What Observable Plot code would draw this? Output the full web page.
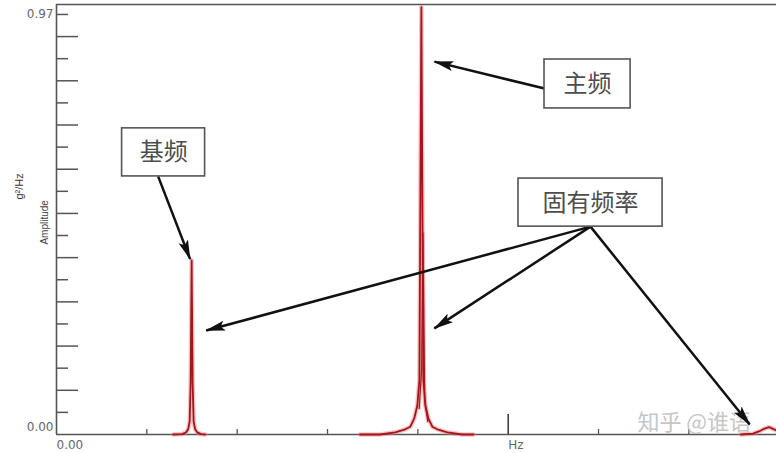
<!DOCTYPE html>
<html>
<head>
<meta charset="utf-8">
<script src="https://cdn.jsdelivr.net/npm/d3@7"></script>
<script src="https://cdn.jsdelivr.net/npm/@observablehq/plot@0.6"></script>
<style>
  html, body { margin: 0; padding: 0; background: #fff; }
</style>
</head>
<body>
<div id="chart"></div>
<script>
// ---- Spectrum traces (Hz, amplitude g²/Hz) ----
const baseHz   = [129.1, 139.1, 143.5, 145.7, 147.4, 148.5, 149.6, 150.7, 151.8, 153.5, 155.7, 160.1, 164.5];
const baseAmp  = [0, 0.001, 0.005, 0.012, 0.03, 0.12, 0.402, 0.12, 0.03, 0.012, 0.005, 0.001, 0];

const mainHz   = [336, 358, 375, 386, 391.7, 396, 399.4, 401.7, 403.9, 406.1, 408.3, 411.6, 416, 421.6, 432.7, 449, 461.5];
const mainAmp  = [0, 0, 0.005, 0.012, 0.018, 0.037, 0.067, 0.125, 0.987, 0.125, 0.067, 0.037, 0.018, 0.012, 0.005, 0, 0];

const echoHz   = [401.5, 404.2, 405.6, 407.6, 411];
const echoAmp  = [0.06, 0.15, 0.465, 0.08, 0.03];

const highHz   = [757.6, 770.9, 777.6, 783.1, 788.6, 793.1, 797.5];
const highAmp  = [0, 0.002, 0.007, 0.013, 0.017, 0.013, 0.009];

// ---- Axes ----
const yTop = 0.993;
const xMax = 797;
const yTicksShort = [0.0511, 0.1532, 0.2553, 0.3574, 0.4595, 0.5616, 0.6637, 0.7658, 0.8679, 0.97];
const yTicksLong  = [0.1021, 0.2042, 0.3063, 0.4084, 0.5105, 0.6126, 0.7147, 0.8168, 0.9189];
const yLabelTop = [0.97];
const yLabelBottom = [0];
const xTicksShort = [100, 200, 300, 400, 600, 700];
const xTicksLong  = [500];
const xLabelZero = [0];
const xLabelUnit = [500];
const yTitleUnit = [{label: "g²/Hz", amp: 0.573}];
const yTitleName = [{label: "Amplitude", amp: 0.49}];

// ---- Annotations ----
const boxLabels = ["基频", "主频", "固有频率"];
const boxX1 = [72.6, 540.2, 511.4];
const boxX2 = [164.5, 635.5, 670.9];
const boxY1 = [0.596, 0.753, 0.480];
const boxY2 = [0.707, 0.866, 0.591];
const boxTextHz  = [118.6, 587.8, 591.1];
const boxTextAmp = [0.651, 0.809, 0.535];

const arrowX1 = [112.5, 540.2, 591.1, 591.1, 591.1];
const arrowY1 = [0.596, 0.799, 0.480, 0.480, 0.480];
const arrowX2 = [147.9, 418.3, 165.7, 418.3, 767.3];
const arrowY2 = [0.405, 0.861, 0.240, 0.245, 0.023];

const watermark = [{text: "知乎 @谁语", hz: 643, amp: 0.027}];

// ---- Build tables ----
const rows = (hz, amp, series) => hz.map((h, i) => ({hz: h, amp: amp[i], series}));
const traces = [
  ...rows(baseHz, baseAmp, "base"),
  ...rows(mainHz, mainAmp, "main"),
  ...rows(highHz, highAmp, "high")
];
const echo = rows(echoHz, echoAmp, "echo");
const boxes = boxLabels.map((t, i) => ({t, x1: boxX1[i], x2: boxX2[i], y1: boxY1[i], y2: boxY2[i], tx: boxTextHz[i], ty: boxTextAmp[i]}));
const arrows = arrowX1.map((x, i) => ({x1: x, y1: arrowY1[i], x2: arrowX2[i], y2: arrowY2[i]}));

// filled arrowhead marker
function filledArrow(color) {
  const m = d3.create("svg:marker")
    .attr("viewBox", "-19 -6 20 12")
    .attr("markerUnits", "userSpaceOnUse")
    .attr("markerWidth", 20)
    .attr("markerHeight", 12)
    .attr("refX", 0)
    .attr("refY", 0)
    .attr("orient", "auto");
  m.append("path").attr("d", "M-19,-5L1,0L-19,5L-15,0Z").attr("fill", color).attr("stroke", "none");
  return m.node();
}

const axisGray = "#555";
const labelGray = "#666";
const tickFont = "'DejaVu Sans', sans-serif";
const cjk = "'Noto Sans CJK SC', 'Noto Sans', sans-serif";

const chart = Plot.plot({
  width: 776,
  height: 453,
  marginLeft: 56,
  marginRight: 0,
  marginTop: 4,
  marginBottom: 19,
  x: {domain: [0, xMax], axis: null},
  y: {domain: [0, yTop], axis: null},
  style: {fontFamily: "'Liberation Sans', Arial, sans-serif", background: "#fff"},
  marks: [
    // frame lines
    Plot.ruleY([yTop], {stroke: axisGray, strokeWidth: 1.6}),
    Plot.ruleX([0], {stroke: axisGray, strokeWidth: 1.6}),
    // inward ticks
    Plot.axisY(yTicksLong, {anchor: "left", tickSize: 22, dx: 22, fill: "none", stroke: axisGray, strokeWidth: 1.5, label: null}),
    Plot.axisY(yTicksShort, {anchor: "left", tickSize: 12, dx: 12, fill: "none", stroke: axisGray, strokeWidth: 1.5, label: null}),
    Plot.axisX(xTicksShort, {anchor: "bottom", tickSize: 5, dy: -5, fill: "none", stroke: axisGray, strokeWidth: 1.3, label: null}),
    Plot.axisX(xTicksLong, {anchor: "bottom", tickSize: 20, dy: -20, fill: "none", stroke: "#333", strokeWidth: 1.5, label: null}),
    // tick labels
    Plot.axisY(yLabelTop, {anchor: "left", tickSize: 0, tickPadding: 3, tickFormat: ".2f", fill: labelGray, fontSize: 12, fontFamily: tickFont, label: null}),
    Plot.axisY(yLabelBottom, {anchor: "left", tickSize: 0, tickPadding: 3, dy: -7, tickFormat: ".2f", fill: labelGray, fontSize: 12, fontFamily: tickFont, label: null}),
    Plot.axisX(xLabelZero, {anchor: "bottom", tickSize: 0, tickPadding: 6, tickFormat: ".2f", textAnchor: "start", fill: labelGray, fontSize: 12, fontFamily: tickFont, label: null}),
    Plot.axisX(xLabelUnit, {anchor: "bottom", tickSize: 0, tickPadding: 6, tickFormat: () => "Hz", textAnchor: "start", fill: labelGray, fontSize: 12, fontFamily: tickFont, label: null}),
    // axis titles
    Plot.text(yTitleUnit, {text: "label", y: "amp", frameAnchor: "left", textAnchor: "middle", dx: -37, rotate: -90, fill: "#333", fontSize: 11}),
    Plot.text(yTitleName, {text: "label", y: "amp", frameAnchor: "left", textAnchor: "middle", dx: -12, rotate: -90, fill: "#444", fontSize: 10}),
    // bottom axis line
    Plot.ruleY([0], {stroke: axisGray, strokeWidth: 1.6}),
    // spectrum traces: soft halo + dark red line
    Plot.line(traces, {x: "hz", y: "amp", z: "series", stroke: "#f07a7a", strokeWidth: 4.5, strokeOpacity: 0.45}),
    Plot.line(echo, {x: "hz", y: "amp", stroke: "#f07a7a", strokeWidth: 3.5, strokeOpacity: 0.4}),
    Plot.line(echo, {x: "hz", y: "amp", stroke: "#9e1a1f", strokeWidth: 1.2}),
    Plot.line(traces, {x: "hz", y: "amp", z: "series", stroke: "#a3161c", strokeWidth: 1.8}),
    // watermark (under the arrows)
    Plot.text(watermark, {x: "hz", y: "amp", text: "text", textAnchor: "start", fill: "#c6c6c6", fontSize: 22, fontFamily: cjk}),
    // annotation arrows with filled heads
    Plot.link(arrows, {x1: "x1", y1: "y1", x2: "x2", y2: "y2", stroke: "#111", strokeWidth: 2.5, markerEnd: filledArrow}),
    // annotation boxes
    Plot.rect(boxes, {x1: "x1", x2: "x2", y1: "y1", y2: "y2", fill: "#fff", stroke: "#555", strokeWidth: 1.6}),
    Plot.text(boxes, {x: "tx", y: "ty", text: "t", fill: "#4d4d4d", fontSize: 24, fontFamily: cjk})
  ]
});

document.getElementById("chart").appendChild(chart);
</script>
</body>
</html>
